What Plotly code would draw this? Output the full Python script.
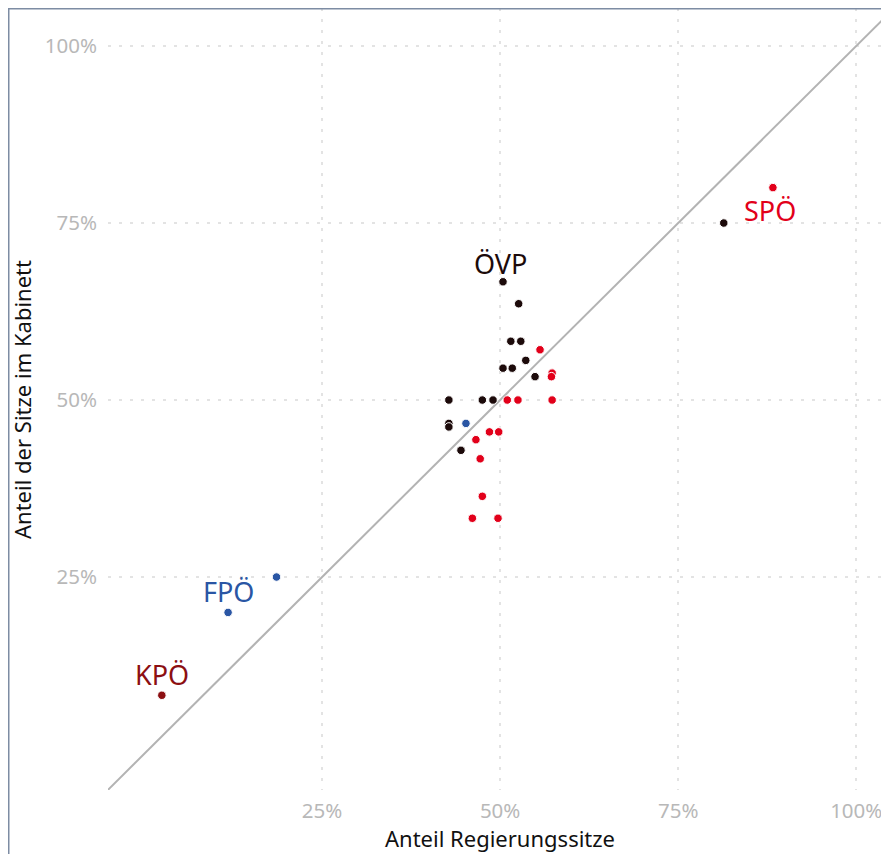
import plotly.graph_objects as go

# ---- data (shares in %) ----
spoe_x = [88.3, 55.6, 57.3, 57.2, 51.0, 52.5, 57.3, 48.5, 49.8, 46.6, 47.2, 47.5, 46.1, 49.7]
spoe_y = [80.0, 57.1, 53.8, 53.3, 50.0, 50.0, 50.0, 45.5, 45.5, 44.4, 41.7, 36.4, 33.3, 33.3]
oevp_x = [81.4, 50.4, 52.6, 51.5, 52.9, 53.6, 50.4, 51.7, 54.9, 42.8, 47.5, 49.0, 42.8, 42.8, 44.5]
oevp_y = [75.0, 66.7, 63.6, 58.3, 58.3, 55.6, 54.5, 54.5, 53.3, 50.0, 50.0, 50.0, 46.7, 46.2, 42.9]
fpoe_x = [18.6, 11.8, 45.2]
fpoe_y = [25.0, 20.0, 46.7]
kpoe_x = [2.5]
kpoe_y = [8.3]

parties = ["ÖVP", "SPÖ", "FPÖ", "KPÖ"]
colors = {"SPÖ": "#e2001a", "ÖVP": "#1c0a0a", "FPÖ": "#2a56a4", "KPÖ": "#8c0f12"}
label_pos = {"ÖVP": (50.0, 69.3), "SPÖ": (87.9, 76.8), "FPÖ": (11.8, 22.9), "KPÖ": (2.5, 11.2)}
series = {"ÖVP": (oevp_x, oevp_y), "SPÖ": (spoe_x, spoe_y), "FPÖ": (fpoe_x, fpoe_y), "KPÖ": (kpoe_x, kpoe_y)}

tick_vals = [25, 50, 75, 100]
tick_text = ["25%", "50%", "75%", "100%"]
diag = [-10, 110]

x_title = "Anteil Regierungssitze"
y_title = "Anteil der Sitze im Kabinett"

FONT = "Noto Sans"

fig = go.Figure()
fig.add_trace(go.Scatter(x=diag, y=diag, mode="lines",
                         line=dict(color="#b3b3b3", width=2), hoverinfo="skip", showlegend=False))
for p in parties:
    xs, ys = series[p]
    fig.add_trace(go.Scatter(x=xs, y=ys, mode="markers", name=p, showlegend=False,
                             marker=dict(size=8.5, color=colors[p], line=dict(color="white", width=1))))

for p in parties:
    lx, ly = label_pos[p]
    fig.add_annotation(x=lx, y=ly, text=p, showarrow=False,
                       font=dict(family=FONT, size=27, color=colors[p]),
                       xanchor="center", yanchor="middle")

# figure geometry (page has an 8px body margin)
W, H = 881, 846
L, R, T, B = 100, 0, 0, 64
pw, ph = W - L - R, H - T - B

def px_x(px):
    return (px - L) / pw

def px_y(py):
    return (H - B - py) / ph

# axis titles
fig.add_annotation(xref="paper", yref="paper", x=px_x(492), y=px_y(830), text=x_title,
                   showarrow=False, xanchor="center", yanchor="middle",
                   font=dict(family=FONT, size=22, color="#111111"))
fig.add_annotation(xref="paper", yref="paper", x=px_x(14), y=px_y(392), text=y_title,
                   showarrow=False, xanchor="center", yanchor="middle", textangle=-90,
                   font=dict(family=FONT, size=22, color="#111111"))

border = "#7d8ca3"
fig.add_shape(type="line", xref="paper", yref="paper", x0=px_x(0), x1=px_x(W), y0=px_y(0.75), y1=px_y(0.75),
              line=dict(color=border, width=1.5))
fig.add_shape(type="line", xref="paper", yref="paper", x0=px_x(0.75), x1=px_x(0.75), y0=px_y(0), y1=px_y(H),
              line=dict(color=border, width=1.5))

axis_common = dict(
    showgrid=True, gridcolor="#e3e3e3", gridwidth=2, griddash="3px,8px",
    zeroline=False, showline=False, ticks="",
    tickvals=tick_vals, ticktext=tick_text,
    tickfont=dict(family=FONT, size=20.5, color="#b8b8b8"),
)
fig.update_xaxes(range=[-5.06, 104.6], ticklabelstandoff=6, **axis_common)
fig.update_yaxes(range=[-5.08, 105.37], ticklabelstandoff=10, **axis_common)

fig.update_layout(width=W, height=H, margin=dict(l=L, r=R, t=T, b=B, autoexpand=False),
                  plot_bgcolor="white", paper_bgcolor="white",
                  font=dict(family=FONT))
fig.write_html("out.html")
